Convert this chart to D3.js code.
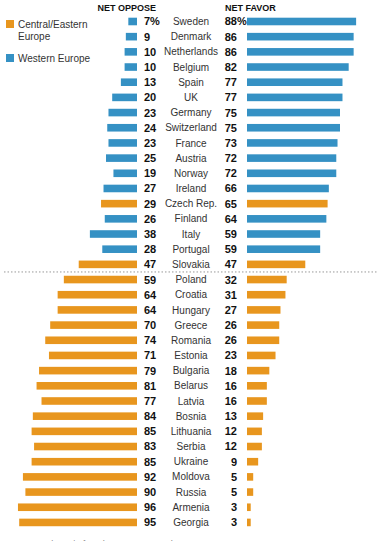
<!DOCTYPE html>
<html>
<head>
<meta charset="utf-8">
<script src="https://cdn.jsdelivr.net/npm/d3@7"></script>
<style>
  body { margin: 0; background: #fff; }
  svg { display: block; font-family: "Liberation Sans", Arial, sans-serif; }
</style>
</head>
<body>
<svg id="chart" width="391" height="541"></svg>
<script>
// countries, top to bottom
const countries = ["Sweden","Denmark","Netherlands","Belgium","Spain","UK","Germany","Switzerland","France","Austria","Norway","Ireland","Czech Rep.","Finland","Italy","Portugal","Slovakia",
  "Poland","Croatia","Hungary","Greece","Romania","Estonia","Bulgaria","Belarus","Latvia","Bosnia","Lithuania","Serbia","Ukraine","Moldova","Russia","Armenia","Georgia"];
const regions = ["W","W","W","W","W","W","W","W","W","W","W","W","E","W","W","W","E",
  "E","E","E","E","E","E","E","E","E","E","E","E","E","E","E","E","E"];
const netOppose = [7,9,10,10,13,20,23,24,23,25,19,27,29,26,38,28,47,59,64,64,70,74,71,79,81,77,84,85,83,85,92,90,96,95];
const netFavor = [88,86,86,82,77,77,75,75,73,72,72,66,65,64,59,59,47,32,31,27,26,26,23,18,16,16,13,12,12,9,5,5,3,3];
const legendItems = [{key: "E", label: ["Central/Eastern", "Europe"]}, {key: "W", label: ["Western Europe"]}];

const colors = {E: "#E8961E", W: "#3591C4"};
const rows = countries.map((c, i) => ({country: c, region: regions[i], oppose: netOppose[i], favor: netFavor[i]}));

const svg = d3.select("#chart");

const y = d3.scaleBand()
  .domain(countries)
  .range([13.9, 13.9 + 34 * 15.18])
  .paddingInner(0.5)
  .paddingOuter(0.25);

const x = d3.scaleLinear().domain([0, 100]).range([0, 124]);

const leftEnd = 137, rightStart = 247;
const mid = d => y(d.country) + y.bandwidth() / 2;

// left bars (net oppose)
svg.append("g").selectAll("rect").data(rows).join("rect")
  .attr("x", d => leftEnd - x(d.oppose))
  .attr("y", d => y(d.country))
  .attr("width", d => x(d.oppose))
  .attr("height", y.bandwidth())
  .attr("fill", d => colors[d.region]);

// right bars (net favor)
svg.append("g").selectAll("rect").data(rows).join("rect")
  .attr("x", rightStart)
  .attr("y", d => y(d.country))
  .attr("width", d => x(d.favor))
  .attr("height", y.bandwidth())
  .attr("fill", d => colors[d.region]);

// values
svg.append("g").selectAll("text").data(rows).join("text")
  .attr("x", 144)
  .attr("y", mid)
  .attr("dy", "0.36em")
  .attr("font-size", 11)
  .attr("font-weight", "bold")
  .attr("fill", "#111")
  .text((d, i) => i === 0 ? d.oppose + "%" : d.oppose);

svg.append("g").selectAll("text").data(rows).join("text")
  .attr("x", 237)
  .attr("y", mid)
  .attr("dy", "0.36em")
  .attr("text-anchor", "end")
  .attr("font-size", 11)
  .attr("font-weight", "bold")
  .attr("fill", "#111")
  .text(d => d.favor);

// percent sign after the first right value
svg.append("text")
  .attr("x", 237)
  .attr("y", mid(rows[0]))
  .attr("dy", "0.36em")
  .attr("font-size", 11)
  .attr("font-weight", "bold")
  .attr("fill", "#111")
  .text("%");

// country names
svg.append("g").selectAll("text").data(rows).join("text")
  .attr("x", 191)
  .attr("y", mid)
  .attr("dy", "0.36em")
  .attr("text-anchor", "middle")
  .attr("font-size", 10)
  .attr("fill", "#333")
  .text(d => d.country);

// headers
svg.append("text").attr("x", 156).attr("y", 11).attr("text-anchor", "end")
  .attr("font-size", 9).attr("font-weight", "bold").attr("fill", "#111").text("NET OPPOSE");
svg.append("text").attr("x", 225).attr("y", 11)
  .attr("font-size", 9).attr("font-weight", "bold").attr("fill", "#111").text("NET FAVOR");

// separator between Slovakia and Poland
const sepY = (mid(rows[16]) + mid(rows[17])) / 2;
svg.append("line")
  .attr("x1", 4).attr("x2", 377)
  .attr("y1", sepY).attr("y2", sepY)
  .attr("stroke", "#999")
  .attr("stroke-width", 1)
  .attr("stroke-dasharray", "1.5,2");

// legend
const legend = svg.append("g").selectAll("g").data(legendItems).join("g")
  .attr("transform", (d, i) => `translate(6, ${i === 0 ? 20 : 54})`);
legend.append("rect").attr("width", 8).attr("height", 8).attr("fill", d => colors[d.key]);
legend.each(function(d) {
  const g = d3.select(this);
  d.label.forEach((line, j) => {
    g.append("text").attr("x", 12).attr("y", 8 + j * 12)
      .attr("font-size", 10).attr("fill", "#333").text(line);
  });
});

// note (cut off at the bottom)
svg.append("text").attr("x", 4).attr("y", 547)
  .attr("font-size", 9).attr("fill", "#888")
  .text("Note: Don't know/refused responses not shown.");
</script>
</body>
</html>
